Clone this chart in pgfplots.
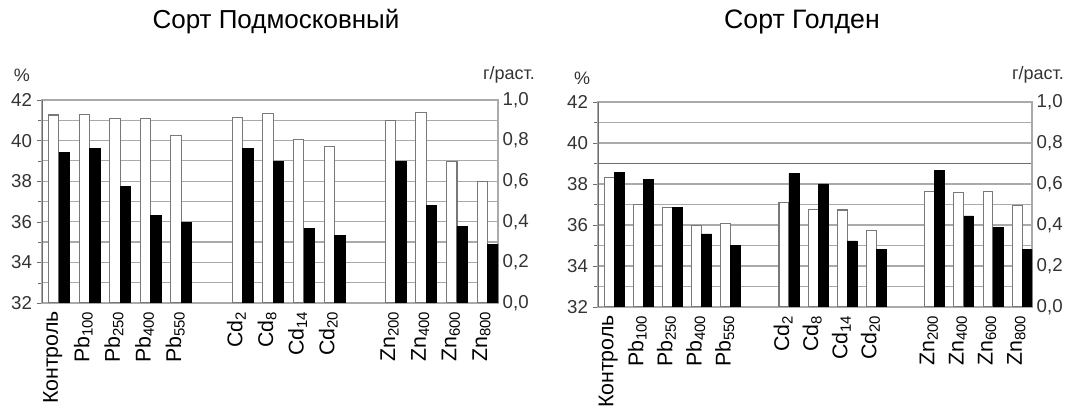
\documentclass[border=0pt]{standalone}
\usepackage{fontspec}
\setmainfont{Liberation Sans}
\usepackage{pgfplots}
\pgfplotsset{compat=1.18}
\usepackage{pgfplotstable}

% x = slot, w = % (white bars, left axis), b = g/plant (black bars, right axis)
\pgfplotstableread{
x w b
0 41.26 0.741
1 41.30 0.762
2 41.07 0.574
3 41.07 0.431
4 40.25 0.397
6 41.15 0.762
7 41.34 0.697
8 40.07 0.366
9 39.70 0.333
11 40.97 0.697
12 41.40 0.480
13 38.97 0.377
14 38.00 0.287
}\tabA

\pgfplotstableread{
x w b
0 38.30 0.655
1 36.98 0.624
2 36.85 0.486
3 35.97 0.357
4 36.08 0.300
6 37.09 0.652
7 36.77 0.600
8 36.73 0.322
9 35.71 0.280
11 37.62 0.665
12 37.58 0.444
13 37.62 0.387
14 36.96 0.280
}\tabB

\definecolor{gridc}{RGB}{170,170,170}
\definecolor{axc}{RGB}{110,110,110}
\definecolor{barc}{RGB}{120,120,120}

\pgfplotsset{
  gridpanel/.style={
    scale only axis,
    xmin=-0.55, xmax=14.34, ymin=32, ymax=42,
    ytick={32,34,...,42}, minor ytick={33,35,...,41},
    axis line style={draw=gridc, line width=0.8pt},
    ytick pos=left, xtick pos=bottom,
    tick align=outside,
    major tick length=4pt, minor tick length=3pt,
    ytick style={draw=axc},
    xtick style={draw=none},
    xtick={-0.2,0.8,1.8,2.8,3.8,5.8,6.8,7.8,8.8,10.8,11.8,12.8,13.8},
    xticklabels={Контроль, Pb\textsubscript{100}, Pb\textsubscript{250}, Pb\textsubscript{400}, Pb\textsubscript{550}, Cd\textsubscript{2}, Cd\textsubscript{8}, Cd\textsubscript{14}, Cd\textsubscript{20}, Zn\textsubscript{200}, Zn\textsubscript{400}, Zn\textsubscript{600}, Zn\textsubscript{800}},
    x tick label style={rotate=90, anchor=east, font=\fontsize{16}{18}\selectfont, inner sep=2pt},
    y tick label style={font=\fontsize{14}{16}\selectfont, text=black!80},
    /pgf/number format/assume math mode=true,
  },
  % white bars: percent values shown above the 32 % base of the left axis
  whitepanel/.style={
    scale only axis,
    xmin=-0.55, xmax=14.34, ymin=0, ymax=10,
    hide axis,
    ybar, bar width=0.34,
  },
  rightpanel/.style={
    scale only axis,
    xmin=-0.55, xmax=14.34, ymin=0, ymax=1,
    axis y line*=right, axis x line=none,
    ytick={0,0.2,...,1.0},
    y axis line style={draw=gridc, line width=0.8pt},
    ytick style={draw=none},
    y tick label style={font=\fontsize{14}{16}\selectfont, text=black!80,
      /pgf/number format/.cd, use comma, fixed, fixed zerofill, precision=1},
    /pgf/number format/assume math mode=true,
    ybar, bar width=0.34,
  },
  whitebar/.style={draw=barc, fill=white, line width=0.8pt, bar shift=-0.17},
  blackbar/.style={draw=black, fill=black, bar shift=0.17},
  gridline/.style={draw=gridc, line width=0.9pt, forget plot, mark=none},
}

\begin{document}
\begin{tikzpicture}
\path[use as bounding box] (0,0) rectangle (803.25pt,307.5pt);

% ---------- Left panel ----------
\begin{axis}[gridpanel, at={(31.5pt,80.25pt)}, anchor=south west,
  width=342pt, height=152.25pt]
  \pgfplotsinvokeforeach{33,34,35,36,37,38,39,40,41}{
    \addplot[gridline] coordinates {(-0.55,#1) (14.34,#1)};
  }
  \draw[axc, line width=0.9pt] (rel axis cs:0,0) -- (rel axis cs:0,1);
\end{axis}
\begin{axis}[whitepanel, at={(31.5pt,80.25pt)}, anchor=south west,
  width=342pt, height=152.25pt]
  \addplot[whitebar] table[x=x, y expr=\thisrow{w}-32] {\tabA};
\end{axis}
\begin{axis}[rightpanel, at={(31.5pt,80.25pt)}, anchor=south west,
  width=342pt, height=152.25pt]
  \addplot[blackbar] table[x=x, y=b] {\tabA};
\end{axis}
\node[font=\fontsize{19.5}{22}\selectfont] at (207pt,291pt) {Сорт Подмосковный};
\node[font=\fontsize{13.5}{16}\selectfont, text=black!80] at (16.5pt,251.25pt) {\%};
\node[font=\fontsize{13.5}{16}\selectfont, text=black!80] at (381.75pt,251.25pt) {г/раст.};

% ---------- Right panel ----------
\begin{axis}[gridpanel, at={(448.5pt,77.25pt)}, anchor=south west,
  width=325.5pt, height=153.75pt]
  \pgfplotsinvokeforeach{33,34,35,36,37,38,40,41}{
    \addplot[gridline] coordinates {(-0.55,#1) (14.34,#1)};
  }
  \addplot[gridline, draw=axc] coordinates {(-0.55,39) (14.34,39)};
  \draw[axc, line width=0.9pt] (rel axis cs:0,0) -- (rel axis cs:0,1);
\end{axis}
\begin{axis}[whitepanel, at={(448.5pt,77.25pt)}, anchor=south west,
  width=325.5pt, height=153.75pt]
  \addplot[whitebar] table[x=x, y expr=\thisrow{w}-32] {\tabB};
\end{axis}
\begin{axis}[rightpanel, at={(448.5pt,77.25pt)}, anchor=south west,
  width=325.5pt, height=153.75pt]
  \addplot[blackbar] table[x=x, y=b] {\tabB};
\end{axis}
\node[font=\fontsize{20}{22}\selectfont] at (601.5pt,291pt) {Сорт Голден};
\node[font=\fontsize{13.5}{16}\selectfont, text=black!80] at (436.5pt,249pt) {\%};
\node[font=\fontsize{13.5}{16}\selectfont, text=black!80] at (778.5pt,251.25pt) {г/раст.};
\end{tikzpicture}
\end{document}
